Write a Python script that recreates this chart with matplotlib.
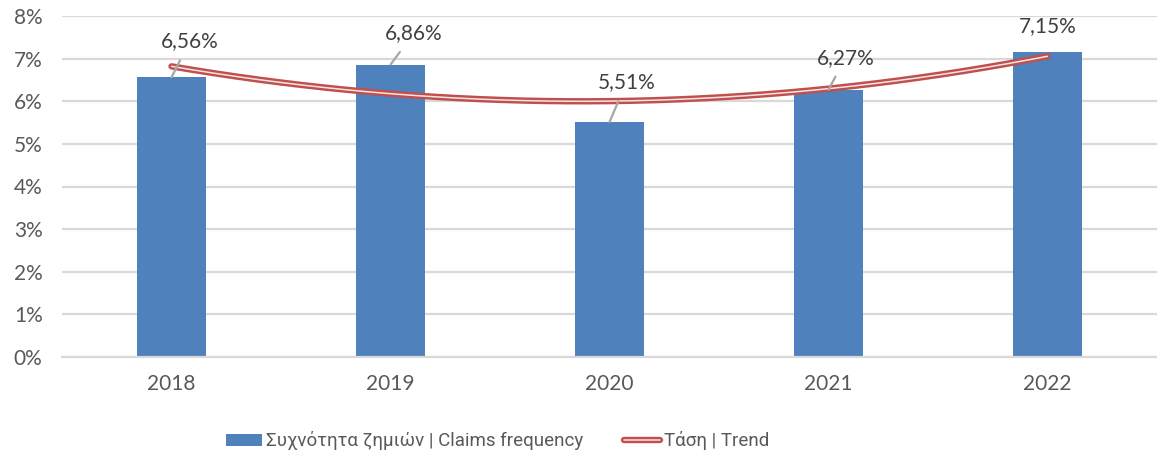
import numpy as np
import matplotlib
matplotlib.use("Agg")
import matplotlib.pyplot as plt
import matplotlib.patheffects as pe

years = ["2018", "2019", "2020", "2021", "2022"]
claims_freq = [6.56, 6.86, 5.51, 6.27, 7.15]
label_texts = ["6,56%", "6,86%", "5,51%", "6,27%", "7,15%"]
yticks = [0, 1, 2, 3, 4, 5, 6, 7, 8]
bar_label = "Συχνότητα ζημιών | Claims frequency"
trend_label = "Τάση | Trend"

# label centre offsets from bar top, in pixels (layout only)
label_offsets = [(18, 36), (23, 31), (17, 40), (17, 32), (0, 26)]
show_leader = [True, True, True, True, False]

plt.rcParams['font.family'] = ['Lato', 'DejaVu Sans']
leg_family = ['Roboto', 'DejaVu Sans']
leg_size = 13.5

fig = plt.figure(figsize=(11.57, 4.59), dpi=100)
ax = fig.add_axes([62/1157, 1-357/459, 1-62/1157, (357-16)/459])

x = np.arange(len(years))
blue = "#4F81BD"
red = "#C0504D"
ax.bar(x, claims_freq, width=0.315, color=blue, zorder=2, label=bar_label)

# polynomial (order 2) trend line
coef = np.polyfit(x, claims_freq, 2)
xs = np.linspace(x[0], x[-1], 200)
ys = np.polyval(coef, xs)
ax.plot(xs, ys, color="#F7E4E4", lw=1.1, zorder=4, solid_capstyle='round',
        path_effects=[pe.Stroke(linewidth=4.6, foreground=red, capstyle='round'), pe.Normal()],
        label=trend_label)

px = 0.72  # pixels -> points at dpi 100
for xi, v, t, off, lead in zip(x, claims_freq, label_texts, label_offsets, show_leader):
    ax.annotate(t, xy=(xi, v), xytext=(off[0]*px, off[1]*px), textcoords='offset points',
                ha='center', va='center', fontsize=15, color="#404040", zorder=5,
                arrowprops=dict(arrowstyle='-', color='#A6A6A6', lw=1.6, shrinkA=5, shrinkB=0) if lead else None)

ax.set_xlim(-0.5, len(years)-0.5)
ax.set_ylim(0, 8)
ax.set_yticks(yticks)
ax.set_yticklabels([f"{t}%" for t in yticks])
ax.set_xticks(x)
ax.set_xticklabels(years)
ax.tick_params(axis='both', length=0, labelsize=15, colors="#595959")
ax.tick_params(axis='y', pad=14)
ax.tick_params(axis='x', pad=12)
ax.yaxis.grid(True, color="#D9D9D9", lw=1.6, zorder=0)
ax.set_axisbelow(True)
for s in ['left', 'right', 'top']:
    ax.spines[s].set_visible(False)
ax.spines['bottom'].set_color("#D9D9D9")
ax.spines['bottom'].set_linewidth(1.6)

h, l = ax.get_legend_handles_labels()
order = [l.index(bar_label), l.index(trend_label)]
fs_px = leg_size * 100 / 72
leg = fig.legend([h[i] for i in order], [l[i] for i in order],
                 loc='center', bbox_to_anchor=(498/1157, 1-441/459), ncol=2, frameon=False,
                 prop={'family': leg_family, 'size': leg_size},
                 handlelength=36/fs_px, handleheight=12/fs_px, columnspacing=41/fs_px,
                 handletextpad=4/fs_px)
for t in leg.get_texts():
    t.set_color("#595959")

fig.savefig("out.png", dpi=100)
